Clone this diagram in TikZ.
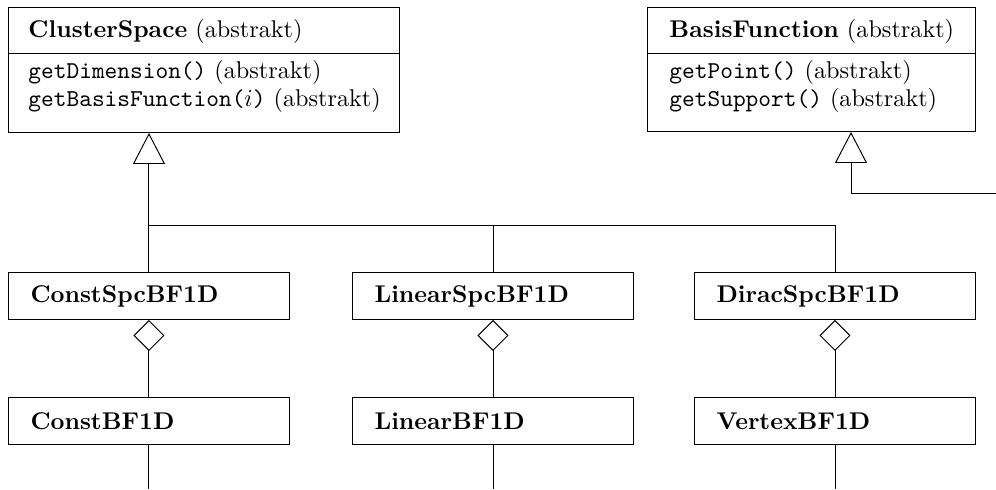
\documentclass[tikz,border=0pt]{standalone}
\usetikzlibrary{arrows.meta,calc}
\begin{document}
\begin{tikzpicture}[x=0.4132pt,y=-0.4132pt,
  line width=0.4pt,
  clsbox/.style={draw, rectangle, anchor=north west, inner sep=0pt},
  simplebox/.style={draw, rectangle, anchor=north west, inner ysep=0pt, inner xsep=9.09pt,
     text width=97.9pt, align=left, minimum width=116.1pt, minimum height=19.42pt},
  txt/.style={anchor=base west, inner sep=0pt},
  inh/.style={-{Triangle[open,length=12.81pt,width=13.22pt]}},
  agg/.style={{Diamond[open,length=12.81pt,width=12.81pt]}-}]
\useasboundingbox (0,0) rectangle (996,489);

% abstract classes
\node[clsbox, minimum width=161.56pt, minimum height=51.65pt] (cs) at (8,7) {};
\node[clsbox, minimum width=135.53pt, minimum height=51.24pt] (bf) at (647,7) {};
\coordinate (dy) at (0,53);
\draw (cs.west |- dy) -- (cs.east |- dy);
\draw (bf.west |- dy) -- (bf.east |- dy);

\node[txt] (csh) at (28,37) {\textbf{ClusterSpace} (abstrakt)};
\node[txt] (csm1) at (28,78) {\texttt{getDimension()} (abstrakt)};
\node[txt] (csm2) at (28,106) {\texttt{getBasisFunction(}$i$\texttt{)} (abstrakt)};

\node[txt] (bfh) at (669,37) {\textbf{BasisFunction} (abstrakt)};
\node[txt] (bfm1) at (669,78) {\texttt{getPoint()} (abstrakt)};
\node[txt] (bfm2) at (669,106) {\texttt{getSupport()} (abstrakt)};

% concrete classes
\node[simplebox] (csbf) at (8,272) {\textbf{ConstSpcBF1D}};
\node[simplebox] (lsbf) at (352,272) {\textbf{LinearSpcBF1D}};
\node[simplebox] (dsbf) at (694,272) {\textbf{DiracSpcBF1D}};
\node[simplebox] (cbf) at (8,397) {\textbf{ConstBF1D}};
\node[simplebox] (lbf) at (352,397) {\textbf{LinearBF1D}};
\node[simplebox] (vbf) at (694,397) {\textbf{VertexBF1D}};

% inheritance from ClusterSpace
\coordinate (jy) at (0,225);
\coordinate (j1) at (csbf.north |- jy);
\coordinate (j2) at (lsbf.north |- jy);
\coordinate (j3) at (dsbf.north |- jy);
\draw[inh] (j1) -- (j1 |- cs.south);
\draw (j1) -- (j3);
\draw (j1) -- (csbf.north);
\draw (j2) -- (lsbf.north);
\draw (j3) -- (dsbf.north);

% inheritance to BasisFunction
\coordinate (bfr) at (996,193);
\coordinate (bfx) at (851,0);
\draw[inh] (bfr) -| (bfx |- bf.south);

% aggregations
\draw[agg] (csbf.south) -- (cbf.north);
\draw[agg] (lsbf.south) -- (lbf.north);
\draw[agg] (dsbf.south) -- (vbf.north);

% lines leaving the picture
\coordinate (by) at (0,489);
\draw (cbf.south) -- (cbf.south |- by);
\draw (lbf.south) -- (lbf.south |- by);
\draw (vbf.south) -- (vbf.south |- by);
\end{tikzpicture}
\end{document}
